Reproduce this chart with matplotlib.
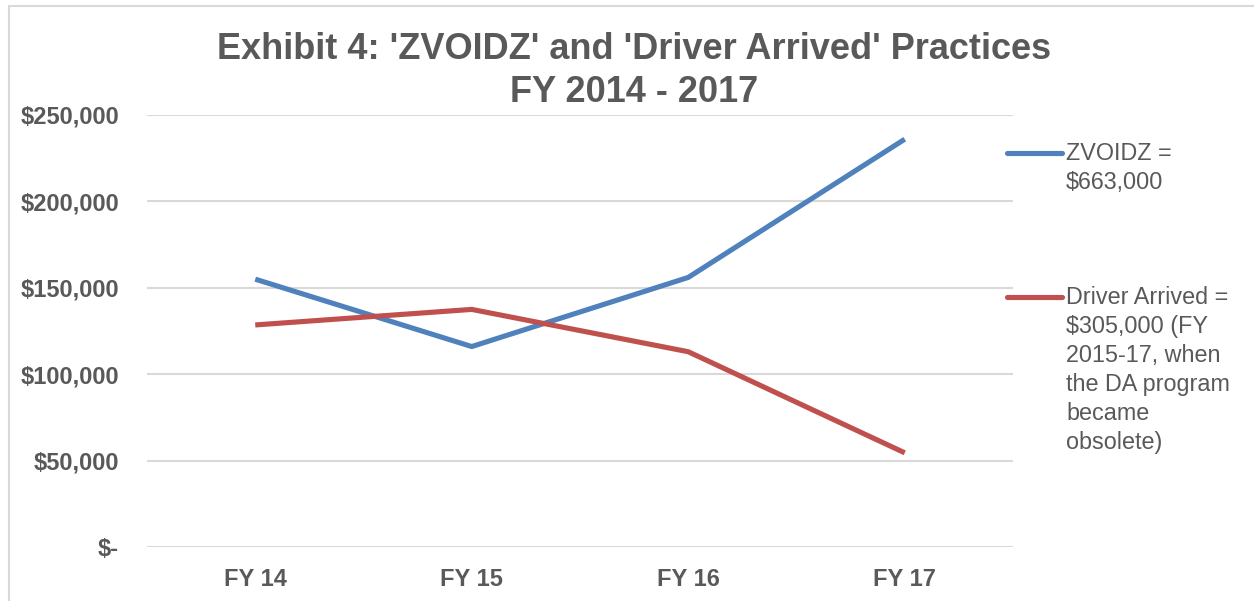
import matplotlib
matplotlib.use('Agg')
import matplotlib.pyplot as plt
from matplotlib.lines import Line2D
from matplotlib.patches import Rectangle
from matplotlib.ticker import FuncFormatter

plt.rcParams['font.family'] = ['Liberation Sans', 'DejaVu Sans']

# data
years = ['FY 14', 'FY 15', 'FY 16', 'FY 17']
zvoidz = [155000, 116000, 156000, 236000]
driver_arrived = [128500, 137500, 113000, 54500]
zvoidz_label = 'ZVOIDZ =\n$663,000'
driver_label = 'Driver Arrived =\n$305,000 (FY\n2015-17, when\nthe DA program\nbecame\nobsolete)'
yticks = [0, 50000, 100000, 150000, 200000, 250000]

BLUE = '#4F81BD'
RED = '#C0504D'
GREY_TXT = '#595959'
GRID = '#D9D9D9'

fig = plt.figure(figsize=(12.54, 6.01), dpi=100)
ax = fig.add_axes([147 / 1254, 54 / 601, 866 / 1254, 432 / 601])

x = range(len(years))
ax.plot(x, zvoidz, color=BLUE, linewidth=3.7, solid_capstyle='butt', clip_on=False, zorder=3)
ax.plot(x, driver_arrived, color=RED, linewidth=3.7, solid_capstyle='butt', clip_on=False, zorder=4)

ax.set_xlim(-0.5, len(years) - 0.5)
ax.set_ylim(0, 250000)
ax.set_yticks(yticks)
ax.yaxis.set_major_formatter(FuncFormatter(lambda v, p: '$-' if v == 0 else f'${v:,.0f}'))
ax.set_xticks(list(x))
ax.set_xticklabels(years)

ax.grid(axis='y', color=GRID, linewidth=1.5)
ax.set_axisbelow(True)
for s in ax.spines.values():
    s.set_visible(False)
ax.tick_params(length=0)
ax.tick_params(axis='y', pad=20)
ax.tick_params(axis='x', pad=15)
for lab in ax.get_yticklabels() + ax.get_xticklabels():
    lab.set_fontsize(17)
    lab.set_fontweight('bold')
    lab.set_color(GREY_TXT)

fig.text(634 / 1254, 1 - 71 / 601, "Exhibit 4: 'ZVOIDZ' and 'Driver Arrived' Practices\nFY 2014 - 2017",
         ha='center', va='center', fontsize=26, fontweight='bold', color=GREY_TXT, linespacing=1.3)

# legend keys and labels placed like the Excel side legend
for ky, lab, col in [(153, zvoidz_label, BLUE), (297, driver_label, RED)]:
    fig.add_artist(Line2D([1007 / 1254, 1062 / 1254], [1 - ky / 601, 1 - ky / 601],
                          color=col, linewidth=3.7, solid_capstyle='round'))
    fig.text(1066 / 1254, 1 - (ky - 11) / 601, lab, ha='left', va='top',
             fontsize=16.8, color=GREY_TXT, linespacing=1.33)

# outer chart border (only top and left are inside the crop)
fig.add_artist(Rectangle((9 / 1254, -0.05), 1.1, 1 - 6 / 601 + 0.05, transform=fig.transFigure,
                         fill=False, edgecolor='#D9D9D9', linewidth=1.5))

fig.savefig('out.png', dpi=100)
